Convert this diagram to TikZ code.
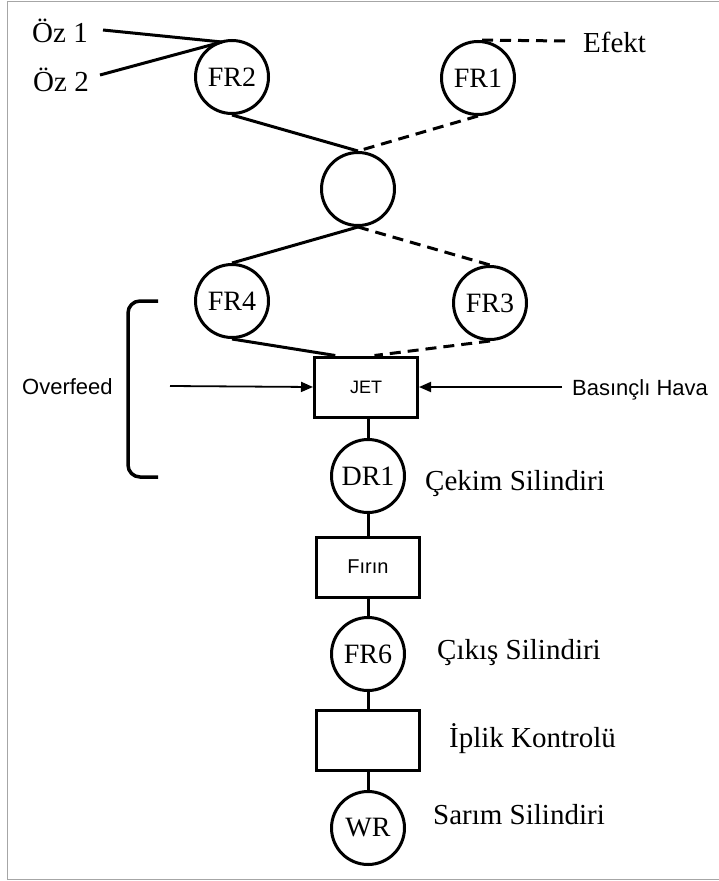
\documentclass[tikz,border=0pt]{standalone}
\usepackage{fontspec}
\setmainfont{Liberation Serif}
\newfontfamily\uisans{Liberation Sans}
\usetikzlibrary{arrows.meta,calc}

\tikzset{
  roller/.style={circle, draw, line width=3pt, minimum size=73pt, inner sep=0pt,
                 font=\fontsize{28}{30}\selectfont},
  unitbox/.style={rectangle, draw, line width=3pt, minimum width=103pt, minimum height=60pt,
                  inner sep=0pt},
  yarn/.style={line width=3pt},
  effect/.style={line width=3pt, dash pattern=on 11pt off 7pt},
  feed/.style={line width=1.8pt, -{Triangle[length=12pt,width=10pt]}},
  label/.style={anchor=west, inner sep=0pt, font=\fontsize{29}{32}\selectfont},
  sidelabel/.style={anchor=west, inner sep=0pt, font=\uisans\fontsize{22}{26}\selectfont},
}

\begin{document}
\begin{tikzpicture}[x=1pt, y=-1pt]
  \useasboundingbox (0,0) rectangle (719,881);
  % page frame
  \draw[gray!70, line width=1.5pt] (725,1.5) -- (7.5,1.5) -- (7.5,879.5) -- (725,879.5);

  % rollers
  \node[roller] (fr2) at (232,77) {FR2};
  \node[roller] (fr1) at (478,78) {FR1};
  \node[roller] (mix) at (358,189) {};
  \node[roller] (fr4) at (232,301) {FR4};
  \node[roller] (fr3) at (490,303) {FR3};
  \node[unitbox, font=\uisans\fontsize{18}{20}\selectfont] (jet) at (366,387) {JET};
  \node[roller] (dr1) at (368,476) {DR1};
  \node[unitbox, font=\uisans\fontsize{20}{22}\selectfont] (oven) at (368,567) {Fırın};
  \node[roller] (fr6) at (368,654) {FR6};
  \node[unitbox] (ctrl) at (368,740) {};
  \node[roller] (wr) at (368,828) {WR};

  % labels
  \node[label] (oz1) at (32,31) {Öz 1};
  \node[label] (oz2) at (33,80) {Öz 2};
  \node[label] (efekt) at (583,42) {Efekt};
  \node[label] (cekim) at (425,484) {Çekim Silindiri};
  \node[label] (cikis) at (437,653) {Çıkış Silindiri};
  \node[label] (iplik) at (449,739) {İplik Kontrolü};
  \node[label] (sarim) at (433,815) {Sarım Silindiri};
  \node[sidelabel] (overfeed) at (22,387) {Overfeed};
  \node[sidelabel] (hava) at (572,390) {Basınçlı Hava};

  % yarn entry points
  \coordinate (oz1end) at (103,30);
  \coordinate (oz2end) at (100,75);
  \coordinate (join) at (222,42);
  \coordinate (efektend) at (565,41);
  \coordinate (ofstart) at (170,386);
  \coordinate (havastart) at (562,387);

  % core yarns (solid)
  \draw[yarn] (oz1end) -- (join);
  \draw[yarn] (oz2end) -- (join);
  \draw[yarn] (fr2.south) -- (mix.north);
  \draw[yarn] (mix.south) -- (fr4.north);
  \draw[yarn] (fr4.south) -- ($(jet.north west)!0.21!(jet.north east)$);

  % effect yarn (dashed)
  \draw[effect] (efektend) -- (fr1.north);
  \draw[effect] (fr1.south) -- (mix.north);
  \draw[effect] (mix.south) -- (fr3.north);
  \draw[effect] (fr3.south) -- ($(jet.north west)!0.58!(jet.north east)$);

  % air and overfeed inputs
  \draw[feed] (ofstart) -- (jet.west);
  \draw[feed] (havastart) -- (jet.east);

  % overfeed bracket
  \draw[line width=3.5pt, rounded corners=12pt] (158,301) -- (128,301) -- (128,477) -- (158,477);

  % main line
  \draw[yarn] (jet.south -| dr1.north) -- (dr1.north);
  \draw[yarn] (dr1.south) -- (oven.north);
  \draw[yarn] (oven.south) -- (fr6.north);
  \draw[yarn] (fr6.south) -- (ctrl.north);
  \draw[yarn] (ctrl.south) -- (wr.north);
\end{tikzpicture}
\end{document}
